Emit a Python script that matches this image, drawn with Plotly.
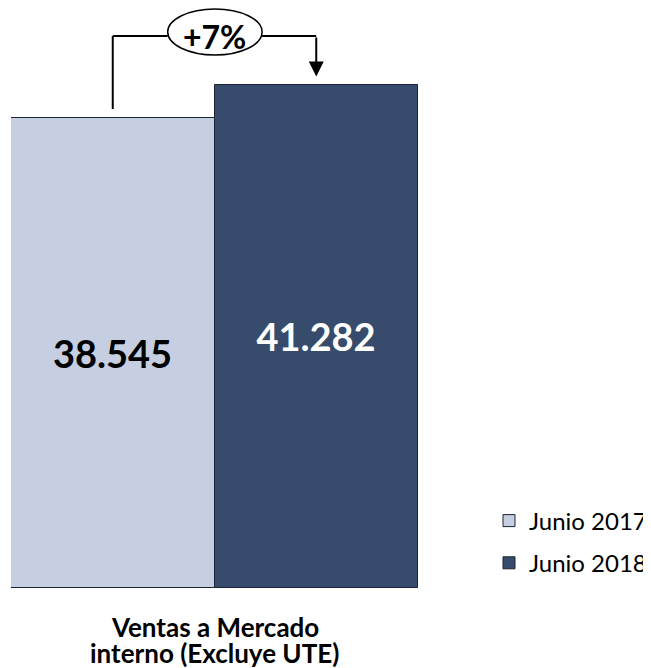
import plotly.graph_objects as go

categories = ["Ventas a Mercado<br>interno (Excluye UTE)"]
series_names = ["Junio 2017", "Junio 2018"]
values_2017 = [38545]
values_2018 = [41282]

colors = ["#C5CFE1", "#374C6C"]
text_colors = ["#000000", "#FFFFFF"]
FONT = "Lato"

# the page body adds an 8px offset; the figure is sized to fit the 651x668 window
W, H = 643, 660
PLOT_H = 580  # baseline position inside the figure

fig = go.Figure()
for name, vals, col, tcol in zip(series_names, [values_2017, values_2018], colors, text_colors):
    fig.add_trace(go.Bar(
        x=categories, y=vals, name=name,
        marker=dict(color=col, line=dict(color="#1c2430", width=1)),
        texttemplate="%{y:,.0f}", textposition="inside", insidetextanchor="middle",
        textfont=dict(family=FONT, size=38, color=tcol, weight="bold"),
        legendgroup=name,
    ))

v1, v2 = values_2017[0], values_2018[0]
pct = (v2 / v1 - 1) * 100
ymax = v1 * PLOT_H / 470

# bracket geometry relative to data
y_start = v1 * 1.019
y_level = v1 * 1.1745
y_tip = v2 * 1.016
xl, xr = -0.25, 0.25
ex0, ex1 = -0.115, 0.117
ey0, ey1 = v1 * 1.134, v1 * 1.232
line = dict(color="black", width=2)
fig.add_shape(type="line", xref="x", yref="y", x0=xl, x1=xl, y0=y_start, y1=y_level, line=line)
fig.add_shape(type="line", xref="x", yref="y", x0=xl, x1=ex0, y0=y_level, y1=y_level, line=line)
fig.add_shape(type="line", xref="x", yref="y", x0=ex1, x1=xr, y0=y_level, y1=y_level, line=line)
fig.add_shape(type="circle", xref="x", yref="y", x0=ex0, x1=ex1, y0=ey0, y1=ey1,
              line=dict(color="black", width=1.5), fillcolor="white")
fig.add_annotation(x=xr, y=y_tip, ax=xr, ay=y_level, xref="x", yref="y", axref="x", ayref="y",
                   text="", showarrow=True, arrowhead=2, arrowsize=1.5, arrowwidth=2, arrowcolor="black")
fig.add_annotation(x=(ex0 + ex1) / 2, y=y_level, xref="x", yref="y", text=f"+{pct:.0f}%",
                   showarrow=False, yshift=-1,
                   font=dict(family=FONT, size=32, color="black", weight="bold"))

# category label (two lines, tighter spacing than tick labels allow)
for i, part in enumerate(categories[0].split("<br>")):
    fig.add_annotation(x=categories[0], y=0, xref="x", yref="y", text=part, showarrow=False,
                       yanchor="middle", yshift=-39 - 26 * i,
                       font=dict(family=FONT, size=26, color="black", weight="bold"))

fig.update_layout(
    width=W, height=H,
    margin=dict(l=3, r=233, t=0, b=H - PLOT_H, autoexpand=False),
    barmode="group", bargap=0, bargroupgap=0,
    separators=",.",
    plot_bgcolor="white", paper_bgcolor="white",
    showlegend=True,
    legend=dict(x=481 / W, y=(H - 534) / H, xref="container", yref="container",
                xanchor="left", yanchor="middle",
                font=dict(family=FONT, size=24, color="black"),
                traceorder="grouped", tracegroupgap=8),
    font=dict(family=FONT),
)
fig.update_xaxes(showgrid=False, showline=False, ticks="", range=[-0.5, 0.5],
                 showticklabels=False, automargin=False)
fig.update_yaxes(visible=False, range=[0, ymax], showgrid=False, zeroline=False, automargin=False)

fig.write_html("out.html")
